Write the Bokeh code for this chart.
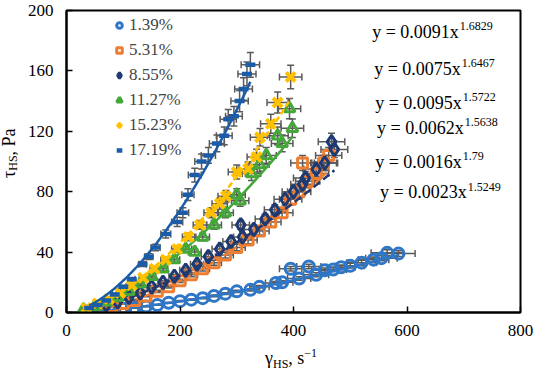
import numpy as np
from bokeh.plotting import figure
from bokeh.layouts import row, column
from bokeh.models import (ColumnDataSource, Whisker, TeeHead, Label, Legend,
                          LegendItem, FixedTicker, Range1d, Div)
from bokeh.embed import file_html
from bokeh.resources import INLINE

# ---------------- data ----------------
SERIES = ["1.39%", "5.31%", "8.55%", "11.27%", "15.23%", "17.19%"]

x_139 = [60, 80, 100, 120, 140, 160, 180, 200, 220, 240, 260, 280, 300, 324, 340,
         369, 380, 395, 410, 427, 440, 455, 470, 484, 500, 520, 541, 555, 565, 585]
y_139 = [1.0, 1.5, 2.5, 3.0, 4.0, 5.0, 6.5, 7.5, 8.5, 9.5, 11.0, 12.5, 14.0, 15.0, 17.0,
         19.5, 20.0, 29.0, 22.5, 30.5, 25.0, 28.0, 28.5, 30.0, 31.0, 33.0, 35.0, 36.0, 39.5, 39.0]

x_531 = [60, 80, 100, 120, 140, 160, 180, 200, 220, 240, 260, 280, 300, 320, 340,
         360, 380, 395, 410, 416, 425, 440, 453, 462]
y_531 = [2.5, 4.0, 6.0, 8.0, 11.0, 14.0, 17.0, 21.0, 25.0, 29.0, 33.0, 38.0, 43.0, 48.0, 54.0,
         60.0, 66.0, 75.0, 80.0, 99.0, 87.0, 92.0, 99.0, 104.0]

x_855 = [50, 70, 90, 110, 130, 150, 170, 190, 210, 230, 250, 270, 290, 307, 310,
         330, 350, 367, 385, 400, 416, 421, 440, 455, 467, 472]
y_855 = [3, 5, 7, 10, 13, 17, 20, 24, 28, 32, 37, 42, 47, 58, 50,
         55, 62, 68, 75, 80, 85, 89, 95, 99, 113, 108]

x_1127 = [30, 50, 70, 90, 110, 130, 150, 170, 190, 210, 226, 240, 260, 280, 300,
          306, 326, 340, 352, 372, 380, 393, 398]
y_1127 = [2, 4, 7, 10, 14, 19, 24, 29, 35, 42, 40, 50, 58, 66, 78,
          74, 92, 98, 104, 117, 112, 135, 122]

x_1523 = [35, 55, 75, 95, 115, 135, 155, 175, 195, 215, 235, 255, 270, 281, 300,
          320, 335, 341, 360, 372, 395]
y_1523 = [3, 6, 9, 13, 18, 23, 29, 35, 42, 50, 58, 66, 72, 77, 93,
          95, 103, 116, 125, 139, 156]

x_1719 = [40, 55, 70, 85, 100, 115, 134, 145, 157, 175, 195, 205, 214, 226, 238,
          250, 265, 278, 285, 295, 305, 312, 318, 324]
y_1719 = [3, 5, 8, 12, 17, 22, 32, 37, 43, 52, 60, 66, 78, 91, 100,
          104, 112, 117, 128, 130, 140, 148, 158, 164]

# power-law trend coefficients (y = a x^b), as printed on the chart
COEF_A = [0.0023, 0.0016, 0.0062, 0.0095, 0.0075, 0.0091]
COEF_B = [1.5249, 1.79, 1.5638, 1.5722, 1.6467, 1.6829]

X_ERR_PCT = 5.0
Y_ERR_PCT = 5.0

X_TICKS = [0, 200, 400, 600, 800]
Y_TICKS = [0, 40, 80, 120, 160, 200]

# ---------------- styling / layout ----------------
FONT = "Times New Roman"
CSS_FONT = "font-family:'Times New Roman',serif;color:#000;white-space:nowrap;"
ERR_COLOR = "#5a5a5a"
COLORS = ["#2E76C8", "#ED7D31", "#1F3A72", "#44A838", "#FFC000", "#1A5CA8"]
MARKERS = ["circle", "square", "diamond", "triangle", "x", "dash"]
SIZES = [11, 10, 13, 11, 13, 10]
LWIDTHS = [3, 3, 3, 3, 4, 4.5]
DASHES = ["solid", "6 3", "8 4", "solid", "6 3", "solid"]

XS = [x_139, x_531, x_855, x_1127, x_1523, x_1719]
YS = [y_139, y_531, y_855, y_1127, y_1523, y_1719]

TOTAL_W, TOTAL_H = 534, 370
YDIV_W = 18            # column holding the rotated y title
XDIV_H = 24            # row holding the x title
PW, PH = TOTAL_W - YDIV_W, TOTAL_H - XDIV_H
# frame position in whole-layout px
FRAME_L, FRAME_R, FRAME_T, FRAME_B = 66, 520, 10, 312

p = figure(width=PW, height=PH, x_range=Range1d(0, 800), y_range=Range1d(0, 200),
           output_backend="svg", toolbar_location=None,
           min_border_left=FRAME_L - YDIV_W, min_border_right=TOTAL_W - FRAME_R,
           min_border_top=FRAME_T, min_border_bottom=PH - FRAME_B)
p.grid.visible = False
p.outline_line_color = "black"
p.outline_line_width = 2
p.background_fill_color = "white"
p.border_fill_color = "white"

for ax in (p.xaxis[0], p.yaxis[0]):
    ax.axis_line_width = 2
    ax.axis_line_color = "black"
    ax.major_tick_in = 6
    ax.major_tick_out = 0
    ax.major_tick_line_width = 1.5
    ax.minor_tick_line_color = None
    ax.major_label_text_font = FONT
    ax.major_label_text_font_size = "17px"
    ax.major_label_text_color = "black"
p.xaxis.major_label_standoff = 12
p.yaxis.major_label_standoff = 13
p.xaxis.ticker = FixedTicker(ticks=X_TICKS)
p.yaxis.ticker = FixedTicker(ticks=Y_TICKS)

legend_items = []
for i, name in enumerate(SERIES):
    xs = np.array(XS[i], float)
    ys = np.array(YS[i], float)
    src = ColumnDataSource(dict(
        x=xs, y=ys,
        xl=xs * (1 - X_ERR_PCT / 100), xu=xs * (1 + X_ERR_PCT / 100),
        yl=ys * (1 - Y_ERR_PCT / 100), yu=ys * (1 + Y_ERR_PCT / 100)))
    for dim, base, lo, up in (("width", "y", "xl", "xu"), ("height", "x", "yl", "yu")):
        p.add_layout(Whisker(
            source=src, base=base, lower=lo, upper=up, dimension=dim,
            line_color=ERR_COLOR, line_width=1.5, level="underlay",
            upper_head=TeeHead(size=7, line_color=ERR_COLOR, line_width=1.5),
            lower_head=TeeHead(size=7, line_color=ERR_COLOR, line_width=1.5)))
    r = p.scatter("x", "y", source=src, marker=MARKERS[i], size=SIZES[i],
                  line_color=COLORS[i], line_width=LWIDTHS[i],
                  fill_color=COLORS[i], fill_alpha=0.0)
    legend_items.append(LegendItem(label=name, renderers=[r]))
    tx = np.linspace(xs.min(), xs.max(), 80)
    p.line(tx, COEF_A[i] * tx ** COEF_B[i], line_color=COLORS[i], line_width=2.5,
           line_dash=DASHES[i])

legend = Legend(items=legend_items, location=(46, 152), margin=0, padding=0,
                spacing=5, glyph_width=14, glyph_height=20, label_height=20,
                label_standoff=3, label_text_font=FONT, label_text_font_size="17px",
                background_fill_alpha=0, border_line_alpha=0)
p.add_layout(legend)

# reference-picture px -> layout px
SX = (FRAME_R - FRAME_L) / (533 - 69)
SY = (FRAME_B - FRAME_T) / (320 - 13)


def lab(text, rx, ry, size, align="left"):
    fx = FRAME_L + (rx - 69) * SX
    fy = FRAME_T + (ry - 13) * SY
    p.add_layout(Label(x=fx - FRAME_L, y=FRAME_B - fy, x_units="screen", y_units="screen",
                       text=text, text_font=FONT, text_font_size=size,
                       text_color="black", text_align=align,
                       text_baseline="alphabetic"))


# ---------------- equations ----------------
EQ_JOIN_X = [470, 472, 473, 475, 473, 478]
EQ_BASE_Y = [35, 72, 107, 132, 167, 198]
EQ_ORDER = [5, 4, 3, 2, 1, 0]
for k, si in enumerate(EQ_ORDER):
    lab(f"y = {COEF_A[si]}x", EQ_JOIN_X[k], EQ_BASE_Y[k], "18px", align="right")
    lab(f"{COEF_B[si]}", EQ_JOIN_X[k] + 1, EQ_BASE_Y[k] - 6, "12px")

# ---------------- axis titles (HTML, with real sub/superscripts) ----------------
SUB = "font-size:12px;vertical-align:-4px;line-height:0;"
SUP = "font-size:12px;vertical-align:7px;line-height:0;"
x_title_left = 265 - YDIV_W
x_html = (f'<div style="{CSS_FONT}font-size:18px;line-height:18px;'
          f'padding-left:{x_title_left}px;padding-top:3px;">'
          f'γ<span style="{SUB}">HS</span>, s<span style="{SUP}">−1</span></div>')
y_start = 178          # layout px where the rotated title begins (its bottom end)
y_html = (f'<div style="{CSS_FONT}font-size:18px;line-height:18px;'
          f'writing-mode:vertical-rl;transform:rotate(180deg);box-sizing:border-box;'
          f'width:{YDIV_W}px;height:{PH}px;padding-top:{PH - y_start}px;">'
          f'τ<span style="{SUB}">HS</span>, Pa</div>')

xdiv = Div(text=x_html, width=PW, height=XDIV_H, margin=0)
ydiv = Div(text=y_html, width=YDIV_W, height=PH, margin=0)

layout = row(column(ydiv, Div(text="", width=YDIV_W, height=XDIV_H, margin=0), spacing=0),
             column(p, xdiv, spacing=0), spacing=0)

open("out.html", "w").write(file_html(layout, INLINE))
